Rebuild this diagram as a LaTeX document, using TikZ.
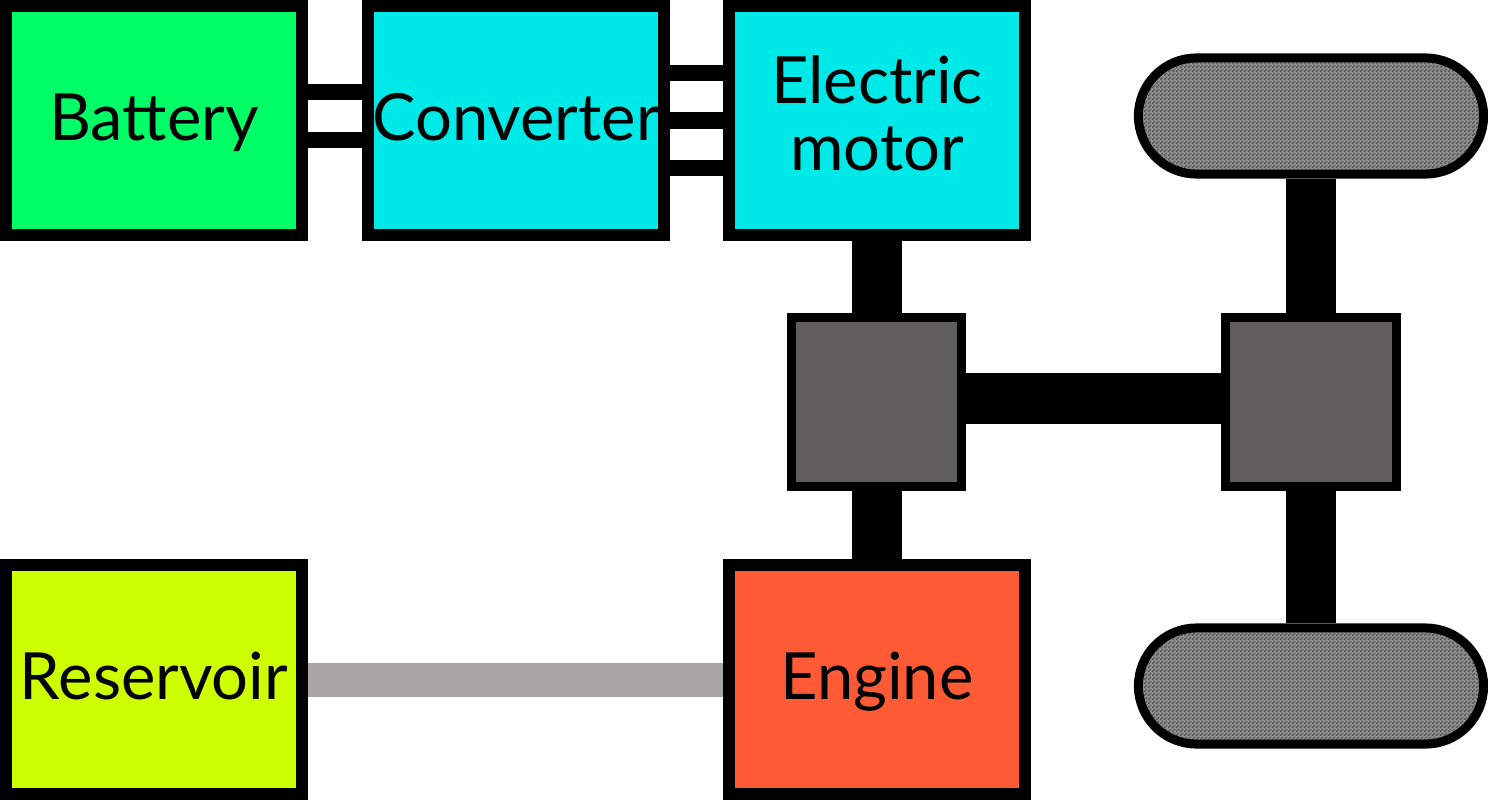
\documentclass[tikz,border=0pt]{standalone}
\usepackage{fontspec}
\setmainfont{Lato}
\usetikzlibrary{shapes.misc, patterns}
\definecolor{batterygreen}{HTML}{00FF66}
\definecolor{powercyan}{HTML}{00E9E9}
\definecolor{fuelyellow}{HTML}{CCFF00}
\definecolor{engineorange}{HTML}{FF5A36}
\definecolor{gearbrown}{HTML}{5F5E5A}
\definecolor{fuelgray}{HTML}{A8A6A7}
\definecolor{tirebase}{HTML}{8E8E8E}
\definecolor{tiredark}{HTML}{555555}
% fine checker for the tyres
\pgfdeclarepatternformonly{tyrechecker}{\pgfpointorigin}{\pgfqpoint{1.138pt}{1.138pt}}{\pgfqpoint{1.138pt}{1.138pt}}{
	\pgfpathrectangle{\pgfpointorigin}{\pgfqpoint{0.569pt}{0.569pt}}
	\pgfpathrectangle{\pgfqpoint{0.569pt}{0.569pt}}{\pgfqpoint{0.569pt}{0.569pt}}
	\pgfusepath{fill}
}
\begin{document}
\begin{tikzpicture}[x=0.01cm, y=-0.01cm,
		block/.style={draw, line width=0.12cm, minimum width=2.96cm, minimum height=2.29cm, inner sep=0pt, font=\fontsize{18.5}{19}\selectfont, align=center, text height=0.47cm, text depth=0.08cm},
		gear/.style={draw, line width=0.09cm, fill=gearbrown, minimum width=1.7cm, minimum height=1.69cm},
		wheel/.style={draw, rounded rectangle, line width=0.09cm, preaction={fill=tirebase}, pattern=tyrechecker, pattern color=tiredark, minimum width=3.45cm, minimum height=1.16cm, inner sep=0pt},
		wire/.style={line width=0.16cm},
		shaft/.style={line width=0.5cm},
		fuel/.style={line width=0.34cm, color=fuelgray}]
		\useasboundingbox (0, 0) rectangle (1488, 800);

		\node at (154, 120.5) (battery) [block, fill=batterygreen] {Battery};
		\node at (516, 120.5) (converter) [block, fill=powercyan] {Converter};
		\node at (877, 120.5) (motor) [block, fill=powercyan, text height=1cm, text depth=-0.05cm] {Electric\\motor};
		\node at (154, 679.5) (reservoir) [block, fill=fuelyellow] {Reservoir};
		\node at (877, 679.5) (engine) [block, fill=engineorange] {Engine};

		\node at (876.5, 402) (gearbox) [gear] {};
		\node at (1311, 402) (differential) [gear] {};

		\node at (1311, 116) (wheeltop) [wheel] {};
		\node at (1311, 686) (wheelbottom) [wheel] {};

		\draw [wire] ([shift={(0, -28.5)}]battery.east) -- ([shift={(0, -28.5)}]converter.west);
		\draw [wire] ([shift={(0, 19.5)}]battery.east) -- ([shift={(0, 19.5)}]converter.west);

		\draw [wire] ([shift={(0, -47.5)}]converter.east) -- ([shift={(0, -47.5)}]motor.west);
		\draw [wire] (converter.east) -- (motor.west);
		\draw [wire] ([shift={(0, 47.5)}]converter.east) -- ([shift={(0, 47.5)}]motor.west);

		\draw [shaft] (motor.south) -- (motor.south |- gearbox.north);
		\draw [shaft] (gearbox.south -| engine.north) -- (engine.north);
		\draw [shaft] ([shift={(0, -3.5)}]gearbox.east) -- ([shift={(0, -3.5)}]differential.west);
		\draw [shaft] (wheeltop.south) -- (differential.north);
		\draw [shaft] (differential.south) -- (wheelbottom.north);

		\draw [fuel] (reservoir.east) -- (engine.west);
	\end{tikzpicture}
\end{document}
